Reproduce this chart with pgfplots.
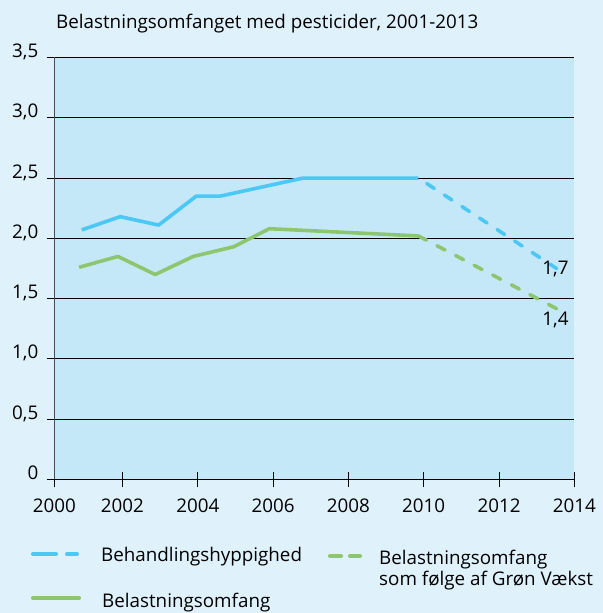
\documentclass[border=0pt]{standalone}
\usepackage{pgfplots}
\pgfplotsset{compat=1.18}
\usepackage{fontspec}
\setmainfont{Open Sans}
\definecolor{bgout}{HTML}{DFF1FB}
\definecolor{bgin}{HTML}{C5E8F8}
\definecolor{lblue}{HTML}{4CC8F4}
\definecolor{lgreen}{HTML}{8DC66F}
\newcommand{\chfont}{\fontsize{18.8bp}{22bp}\selectfont}
\begin{document}
\begin{tikzpicture}[x=1bp,y=1bp]
\useasboundingbox (0,0) rectangle (603,613);
\fill[bgout] (0,0) rectangle (603,613);
\begin{axis}[
  at={(54.3bp,133.5bp)}, anchor=south west,
  scale only axis, width=520bp, height=422bp,
  xmin=2000.19, xmax=2014, ymin=0, ymax=3.5,
  axis background/.style={fill=bgin},
  axis x line*=bottom, axis y line*=left,
  x axis line style={black, line width=1.2bp, -},
  y axis line style={draw=black!70, line width=1.6bp, -},
  ymajorgrids, grid style={black, line width=1bp},
  xtick={2000.19,2002,2004,2006,2008,2010,2012,2014},
  xticklabels={2000,2002,2004,2006,2008,2010,2012,2014},
  ytick={0,0.5,1,1.5,2,2.5,3,3.5},
  yticklabels={0,{0,5},{1,0},{1,5},{2,0},{2,5},{3,0},{3,5}},
  tick align=center, major tick length=15bp,
  tick style={black, line width=1bp},
  tick label style={font=\chfont},
  yticklabel style={anchor=base east, xshift=-5bp},
  xticklabel style={yshift=-8bp},
  clip=false,
]
\addplot[lblue, line width=3.6bp, line join=round] coordinates {
  (2000.92,2.07) (2001.94,2.18) (2002.96,2.11) (2003.96,2.35)
  (2004.59,2.35) (2006.80,2.50) (2009.86,2.50)};
\addplot[lblue, line width=3.6bp, line cap=round, dash pattern=on 9bp off 12bp, dash phase=11bp] coordinates {
  (2009.86,2.50) (2013.53,1.75)};
\addplot[lgreen, line width=3.6bp, line join=round] coordinates {
  (2000.85,1.76) (2001.88,1.85) (2002.87,1.70) (2003.88,1.85)
  (2004.95,1.93) (2005.90,2.08) (2009.86,2.02)};
\addplot[lgreen, line width=3.6bp, line cap=round, dash pattern=on 9bp off 12bp] coordinates {
  (2009.86,2.02) (2013.57,1.41)};
\node[anchor=base, inner sep=0pt, font=\chfont] at (axis cs:2013.5,1.70) {1,7};
\node[anchor=base, inner sep=0pt, font=\chfont] at (axis cs:2013.5,1.28) {1,4};
\end{axis}
\node[anchor=base west, inner sep=0pt, font=\chfont] at (56,584.7) {Belastningsomfanget med pesticider, 2001-2013};
% legend
\draw[lblue, line width=3.6bp, line cap=round] (32.8,59) -- (56.2,59);
\draw[lblue, line width=3.6bp, line cap=round] (66.8,59) -- (77.2,59);
\node[anchor=base west, inner sep=0pt, font=\chfont] at (101,51.6) {Behandlingshyppighed};
\draw[lgreen, line width=3.6bp, line cap=round] (329.8,57) -- (341.2,57);
\draw[lgreen, line width=3.6bp, line cap=round] (349.8,57) -- (360.2,57);
\node[anchor=base west, inner sep=0pt, font=\chfont] at (379,48.6) {Belastningsomfang};
\node[anchor=base west, inner sep=0pt, font=\chfont] at (379,27.6) {som følge af Grøn Vækst};
\draw[lgreen, line width=3.6bp, line cap=round] (32.8,15) -- (79.2,15);
\node[anchor=base west, inner sep=0pt, font=\chfont] at (102,5) {Belastningsomfang};
\end{tikzpicture}
\end{document}
